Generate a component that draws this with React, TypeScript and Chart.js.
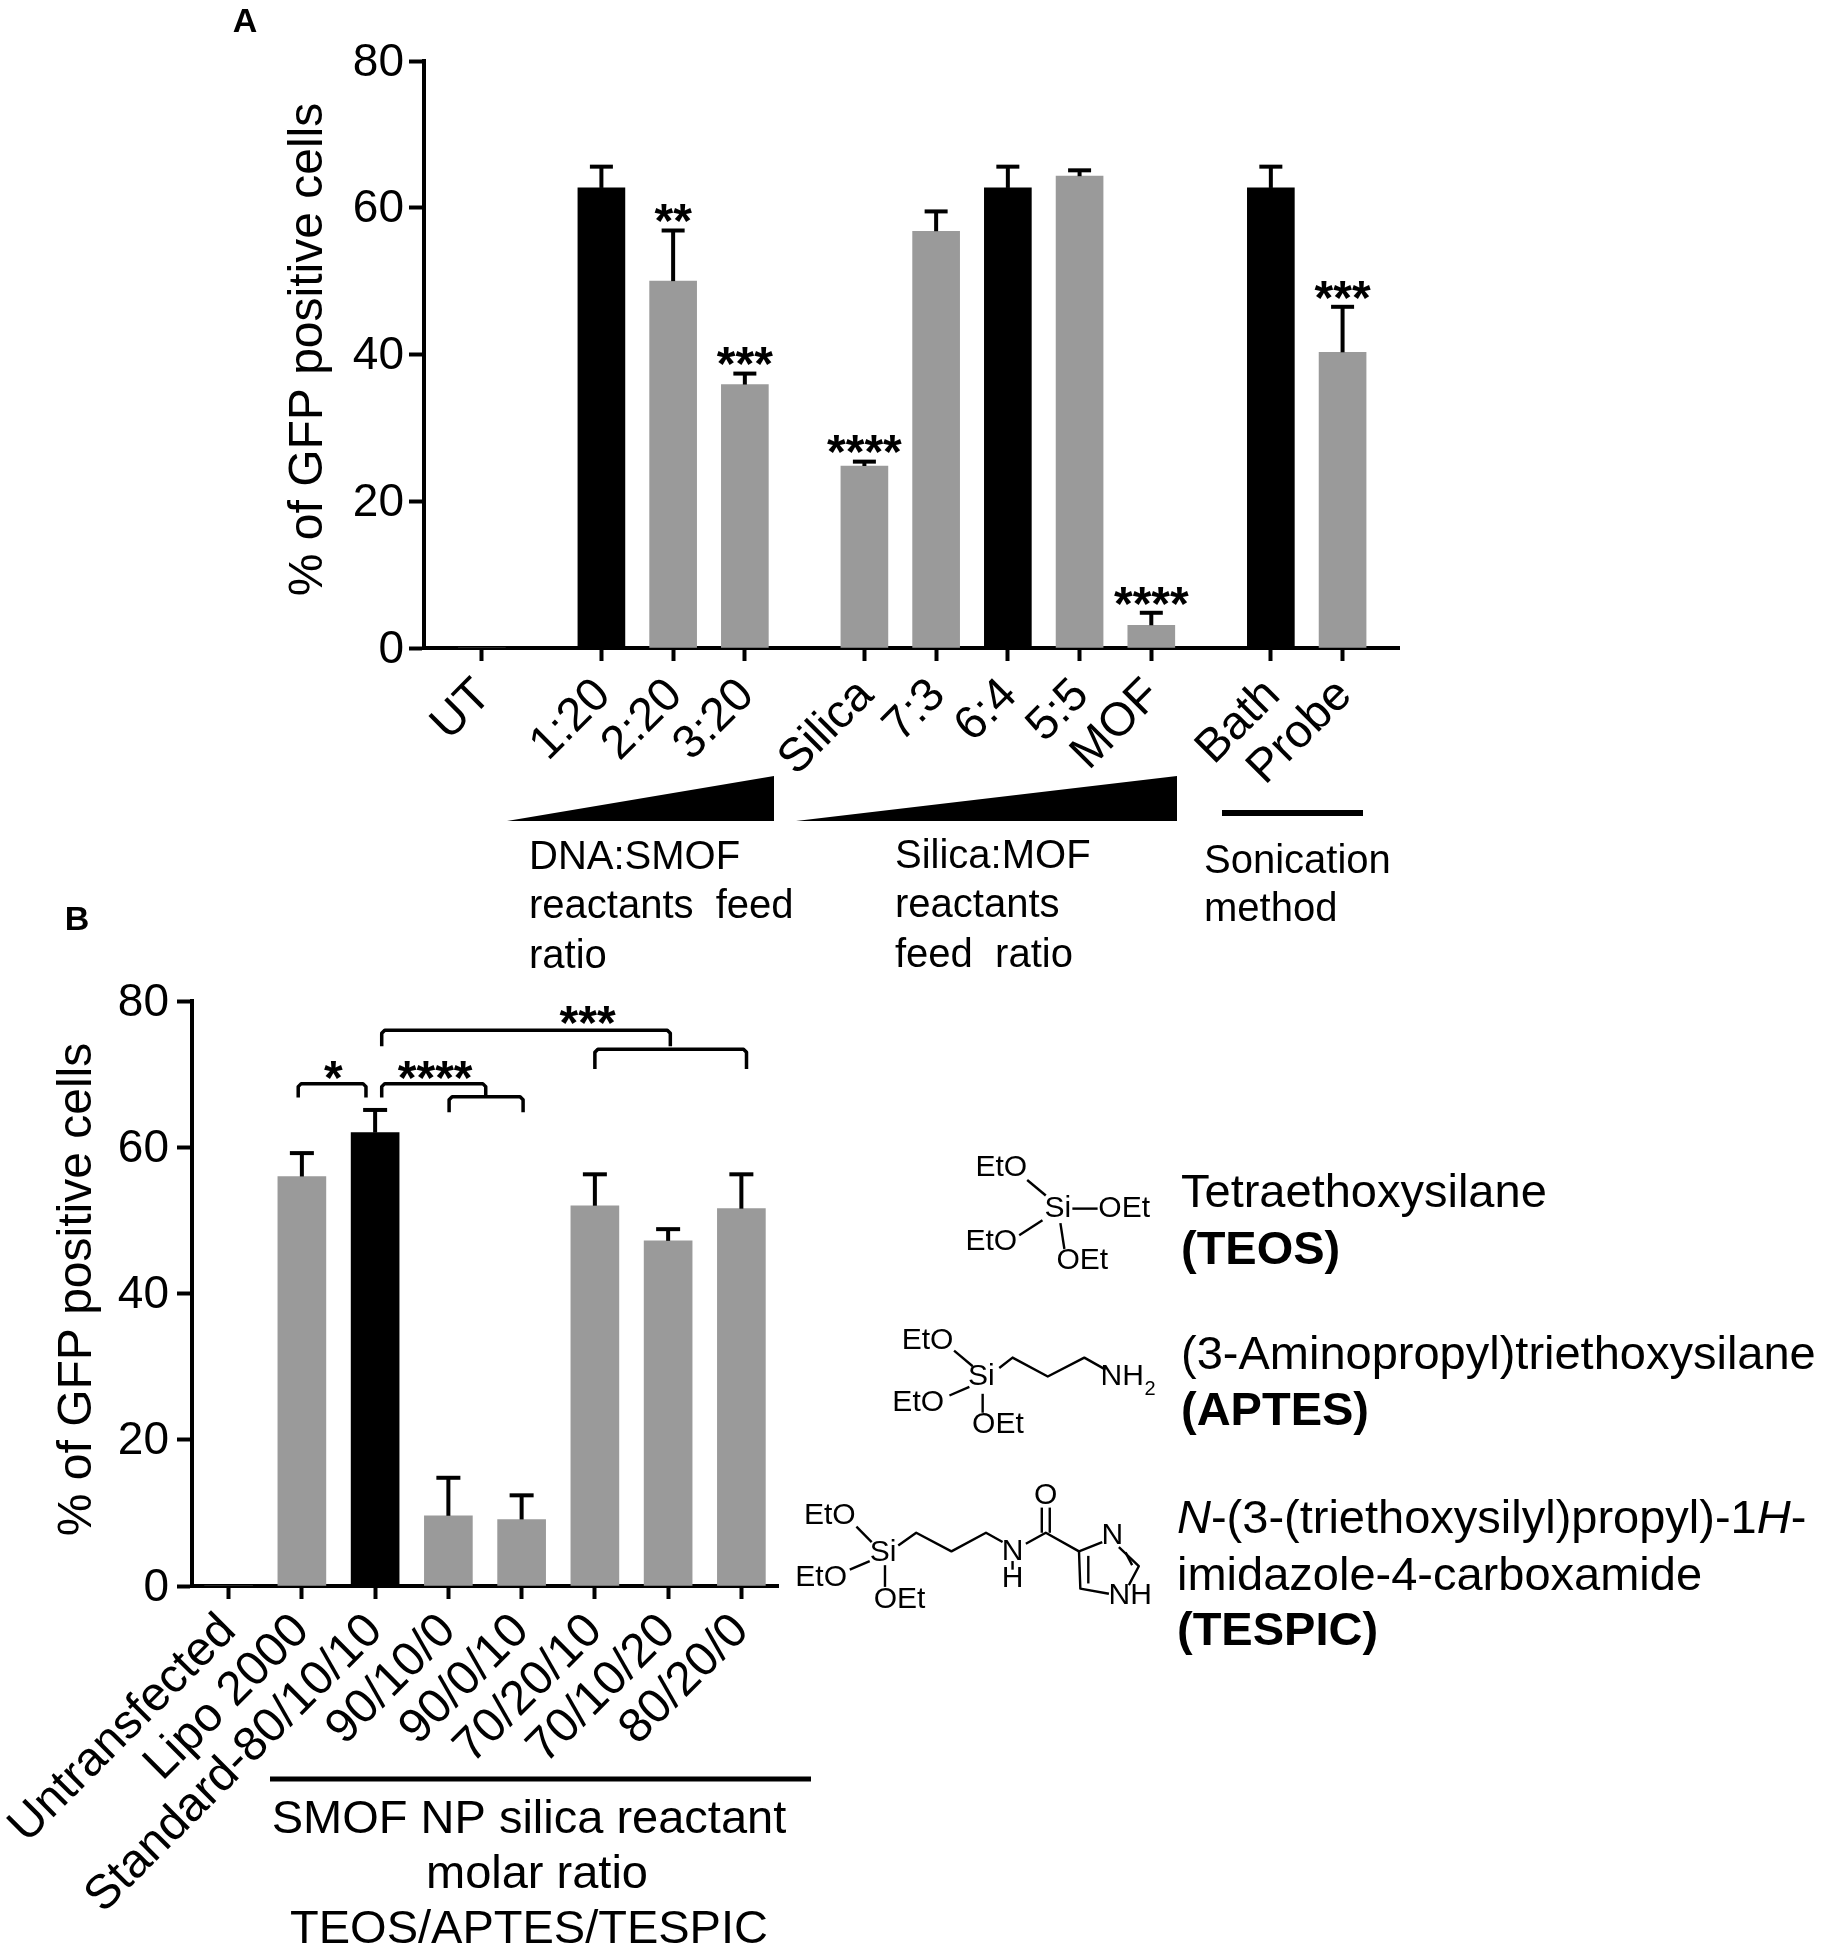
import React, { useEffect, useRef } from "react";
import { Chart, registerables } from "chart.js";

Chart.register(...registerables);

const FONT = '"Liberation Sans", Arial, sans-serif';
const BLACK = "#000000";
const GRAY = "#9a9a9a";

// Panel A
const categoriesA = ["UT", "1:20", "2:20", "3:20", "Silica", "7:3", "6:4", "5:5", "MOF", "Bath", "Probe"];
const valuesA = [0, 62.7, 50, 35.9, 24.8, 56.8, 62.7, 64.3, 3.1, 62.7, 40.3];
const upperA = [null, 65.6, 56.9, 37.4, 25.4, 59.5, 65.6, 65.1, 4.8, 65.6, 46.5];
const starsA = ["", "", "**", "***", "****", "", "", "", "****", "", "***"];
const blackA = ["1:20", "6:4", "Bath"];

// Panel B
const categoriesB = ["Untransfected", "Lipo 2000", "Standard-80/10/10", "90/10/0", "90/0/10", "70/20/10", "70/10/20", "80/20/0"];
const valuesB = [0, 56, 62, 9.6, 9.1, 52, 47.2, 51.6];
const upperB = [null, 59.2, 65.1, 14.8, 12.4, 56.3, 48.8, 56.3];
const blackB = ["Standard-80/10/10"];

const bracketFrom = [0.95, 2.09, 3.01, 2.09, 5.0];
const bracketTo = [1.875, 3.51, 4.02, 6.03, 7.07];
const bracketTop = [68.7, 68.7, 66.9, 76, 73.4];
const bracketEnd = [66.8, 66.8, 64.8, 73.8, 70.7];
const bracketStars = ["*", "****", "", "***", ""];
const bracketStarX = [1.43, 2.82, 0, 4.9, 0];
const bracketStarY = [70.4, 70.4, 0, 78, 0];

const yTicks = [0, 20, 40, 60, 80];
const yTitle = "% of GFP positive cells";

// Bar positions in panel A: bars sit 3 units apart, groups 5 units apart.
const slotsA = [0, 5, 8, 11, 16, 19, 22, 25, 28, 33, 36];

type Ctx = CanvasRenderingContext2D;

function put(ctx: Ctx, text: string, x: number, y: number, font: string, align: CanvasTextAlign = "left") {
  ctx.font = font;
  ctx.textAlign = align;
  ctx.textBaseline = "middle";
  ctx.fillStyle = BLACK;
  ctx.fillText(text, x, y + 3);
}

function stroke(ctx: Ctx, pts: number[][], w: number) {
  ctx.beginPath();
  ctx.strokeStyle = BLACK;
  ctx.lineWidth = w;
  ctx.lineJoin = "round";
  pts.forEach((p, i) => (i ? ctx.lineTo(p[0], p[1]) : ctx.moveTo(p[0], p[1])));
  ctx.stroke();
}

function wedge(ctx: Ctx, x0: number, x1: number, yBase: number, yTop: number) {
  ctx.beginPath();
  ctx.moveTo(x0, yBase);
  ctx.lineTo(x1, yBase);
  ctx.lineTo(x1, yTop);
  ctx.closePath();
  ctx.fillStyle = BLACK;
  ctx.fill();
}

function starText(ctx: Ctx, s: string, x: number, y: number) {
  ctx.font = `bold 48px ${FONT}`;
  ctx.textAlign = "center";
  ctx.textBaseline = "alphabetic";
  ctx.fillStyle = BLACK;
  ctx.fillText(s, x, y + 23);
}

function errorPlugin(upper: (number | null)[], cap: number, stars?: string[]) {
  return {
    id: "errorBars",
    afterDatasetsDraw(chart: any) {
      const { ctx, scales } = chart;
      const meta = chart.getDatasetMeta(0);
      ctx.save();
      upper.forEach((u, i) => {
        if (u === null) return;
        const x = meta.data[i].x;
        const yBar = meta.data[i].y;
        const y = scales.y.getPixelForValue(u);
        stroke(ctx, [[x, yBar], [x, y]], 4);
        stroke(ctx, [[x - cap / 2, y], [x + cap / 2, y]], 4);
        if (stars && stars[i]) starText(ctx, stars[i], x, scales.y.getPixelForValue(u + 2.2));
      });
      ctx.restore();
    },
  };
}

const panelAExtras = {
  id: "panelAExtras",
  afterDraw(chart: any) {
    const ctx: Ctx = chart.ctx;
    ctx.save();
    put(ctx, "A", 245, 20, `bold 34px ${FONT}`, "center");
    wedge(ctx, 507, 774, 821, 776);
    wedge(ctx, 796, 1177, 821, 776);
    stroke(ctx, [[1222, 813], [1363, 813]], 6);
    const f = `40px ${FONT}`;
    put(ctx, "DNA:SMOF", 529, 855, f);
    put(ctx, "reactants  feed", 529, 904, f);
    put(ctx, "ratio", 529, 954, f);
    put(ctx, "Silica:MOF", 895, 854, f);
    put(ctx, "reactants", 895, 903, f);
    put(ctx, "feed  ratio", 895, 953, f);
    put(ctx, "Sonication", 1204, 859, f);
    put(ctx, "method", 1204, 907, f);
    ctx.restore();
  },
};

function chem(ctx: Ctx) {
  const X = (v: number) => 780 + v / 1.505;
  const Y = (v: number) => 1130 + v / 2.9;
  const t = (s: string, x: number, y: number) => put(ctx, s, X(x), Y(y) - 3, `30px ${FONT}`, "center");
  const b = (...p: number[]) => {
    const pts: number[][] = [];
    for (let i = 0; i < p.length; i += 2) pts.push([X(p[i]), Y(p[i + 1])]);
    stroke(ctx, pts, 2.4);
  };
  // TEOS
  t("EtO", 333, 110); t("Si", 418, 228); t("OEt", 518, 228); t("EtO", 318, 325); t("OEt", 455, 378);
  b(372, 145, 400, 190); b(440, 228, 478, 228); b(395, 262, 360, 305); b(422, 270, 428, 345);
  // APTES
  t("EtO", 222, 610); t("Si", 303, 715); t("NH", 515, 715); t("EtO", 208, 790); t("OEt", 328, 855);
  put(ctx, "2", X(557), Y(752) - 3, `20px ${FONT}`, "center");
  b(262, 640, 290, 685); b(330, 690, 350, 660, 403, 715, 458, 660, 490, 695); b(285, 745, 255, 770); b(305, 765, 305, 820);
  // TESPIC
  t("EtO", 75, 1118); t("Si", 155, 1225); t("EtO", 62, 1298); t("OEt", 180, 1362);
  t("N", 350, 1222); t("H", 350, 1302); t("O", 400, 1060); t("N", 500, 1178); t("NH", 527, 1350);
  b(115, 1150, 138, 1195); b(135, 1250, 105, 1275); b(158, 1262, 158, 1325);
  b(178, 1205, 205, 1168, 258, 1222, 310, 1168, 335, 1195);
  b(350, 1250, 350, 1275); b(370, 1200, 400, 1168, 450, 1222, 485, 1195);
  b(394, 1168, 394, 1095); b(406, 1168, 406, 1095);
  b(510, 1210, 540, 1265, 525, 1320); b(520, 1225, 530, 1262);
  b(495, 1345, 452, 1330, 450, 1222); b(464, 1315, 464, 1235);
}

const panelBExtras = {
  id: "panelBExtras",
  afterDraw(chart: any) {
    const ctx: Ctx = chart.ctx;
    const { x, y } = chart.scales;
    ctx.save();
    put(ctx, "B", 77, 918, `bold 34px ${FONT}`, "center");

    bracketFrom.forEach((from, i) => {
      const x0 = x.getPixelForValue(from);
      const x1 = x.getPixelForValue(bracketTo[i]);
      const yt = y.getPixelForValue(bracketTop[i]);
      const ye = y.getPixelForValue(bracketEnd[i]);
      stroke(ctx, [[x0, ye], [x0, yt + 3], [x0 + 3, yt], [x1 - 3, yt], [x1, yt + 3], [x1, ye]], 3.5);
      if (bracketStars[i]) starText(ctx, bracketStars[i], x.getPixelForValue(bracketStarX[i]), y.getPixelForValue(bracketStarY[i]));
    });

    stroke(ctx, [[270, 1779], [811, 1779]], 5);
    const f = `47px ${FONT}`;
    put(ctx, "SMOF NP silica reactant", 529, 1817, f, "center");
    put(ctx, "molar ratio", 537, 1872, f, "center");
    put(ctx, "TEOS/APTES/TESPIC", 529, 1927, f, "center");

    const r = `47px ${FONT}`;
    const rb = `bold 47px ${FONT}`;
    put(ctx, "Tetraethoxysilane", 1181, 1191, r);
    put(ctx, "(TEOS)", 1181, 1248, rb);
    put(ctx, "(3-Aminopropyl)triethoxysilane", 1181, 1353, r);
    put(ctx, "(APTES)", 1181, 1409, rb);

    let cx = 1177;
    const it = `italic 47px ${FONT}`;
    [["N", it], ["-(3-(triethoxysilyl)propyl)-1", r], ["H", it], ["-", r]].forEach(([s, fnt]) => {
      put(ctx, s, cx, 1517, fnt);
      cx += ctx.measureText(s).width;
    });
    put(ctx, "imidazole-4-carboxamide", 1177, 1574, r);
    put(ctx, "(TESPIC)", 1177, 1629, rb);

    chem(ctx);
    ctx.restore();
  },
};

function yScale(left: number, titlePad: number, tickPad: number, titleShift: number) {
  return {
    type: "linear" as const,
    min: 0,
    max: 80,
    afterBuildTicks: (s: any) => {
      s.ticks = yTicks.map((value) => ({ value }));
    },
    afterFit: (s: any) => {
      s.width = left;
      s.paddingTop = 0;
      s.paddingBottom = 0;
      if (!s.__shifted) {
        // The reference's axis title sits slightly above the axis centre.
        s.__shifted = true;
        const drawTitle = s.drawTitle;
        s.drawTitle = function () {
          s.ctx.save();
          s.ctx.translate(0, titleShift);
          drawTitle.call(s);
          s.ctx.restore();
        };
      }
    },
    border: { color: BLACK, width: 4 },
    grid: { drawOnChartArea: false, color: BLACK, tickColor: BLACK, tickLength: 15, tickWidth: 4 },
    ticks: { color: BLACK, font: { family: FONT, size: 46 }, padding: tickPad, labelOffset: 2 },
    title: {
      display: true,
      text: yTitle,
      color: BLACK,
      font: { family: FONT, size: 48 },
      padding: { top: titlePad, bottom: 0 },
    },
  };
}

const commonOptions = {
  responsive: false,
  animation: false as const,
  plugins: { legend: { display: false }, tooltip: { enabled: false } },
};

function App() {
  const a = useRef<HTMLCanvasElement>(null);
  const b = useRef<HTMLCanvasElement>(null);

  useEffect(() => {
    document.body.style.margin = "0";
    const chartA = new Chart(a.current!, {
      type: "bar",
      data: {
        datasets: [
          {
            data: valuesA.map((y, i) => ({ x: slotsA[i], y })),
            backgroundColor: categoriesA.map((c) => (blackA.includes(c) ? BLACK : GRAY)),
            barThickness: 47,
          },
        ],
      },
      options: {
        ...commonOptions,
        layout: { padding: { left: 0, top: 61, right: 1822 - 1399, bottom: 0 } },
        scales: {
          x: {
            type: "linear",
            min: -2.42,
            max: 38.36,
            offset: false,
            afterBuildTicks: (s: any) => {
              s.ticks = slotsA.map((value) => ({ value }));
            },
            afterFit: (s: any) => {
              s.height = 1950 - 648;
              s.paddingLeft = 0;
              s.paddingRight = 0;
            },
            border: { color: BLACK, width: 4 },
            grid: { drawOnChartArea: false, offset: false, color: BLACK, tickColor: BLACK, tickLength: 13, tickWidth: 4 },
            ticks: {
              autoSkip: false,
              minRotation: 45,
              maxRotation: 45,
              color: BLACK,
              padding: 7,
              labelOffset: 2,
              font: { family: FONT, size: 47 },
              callback: (v: any) => categoriesA[slotsA.indexOf(v)] ?? "",
            },
          },
          y: yScale(424, 280, 5, -5),
        },
      } as any,
      plugins: [errorPlugin(upperA, 23, starsA), panelAExtras],
    });

    const chartB = new Chart(b.current!, {
      type: "bar",
      data: {
        labels: categoriesB,
        datasets: [
          {
            data: valuesB,
            backgroundColor: categoriesB.map((c) => (blackB.includes(c) ? BLACK : GRAY)),
            barThickness: 48,
          },
        ],
      },
      options: {
        ...commonOptions,
        layout: { padding: { left: 0, top: 1001, right: 1822 - 778, bottom: 0 } },
        scales: {
          x: {
            type: "category",
            offset: true,
            afterFit: (s: any) => {
              s.height = 1950 - 1586;
              s.paddingLeft = 0;
              s.paddingRight = 0;
            },
            border: { color: BLACK, width: 4 },
            grid: { drawOnChartArea: false, offset: false, color: BLACK, tickColor: BLACK, tickLength: 13, tickWidth: 4 },
            ticks: {
              autoSkip: false,
              minRotation: 45,
              maxRotation: 45,
              color: BLACK,
              padding: 4,
              font: { family: FONT, size: 48 },
            },
          },
          y: yScale(192, 49, 8, -4),
        },
      } as any,
      plugins: [errorPlugin(upperB, 24), panelBExtras],
    });

    return () => {
      chartA.destroy();
      chartB.destroy();
    };
  }, []);

  const style: React.CSSProperties = { position: "absolute", left: 0, top: 0 };
  return (
    <div style={{ position: "relative", width: 1822, height: 1950 }}>
      <canvas ref={a} width={1822} height={1950} style={style} />
      <canvas ref={b} width={1822} height={1950} style={style} />
    </div>
  );
}

export default App;
